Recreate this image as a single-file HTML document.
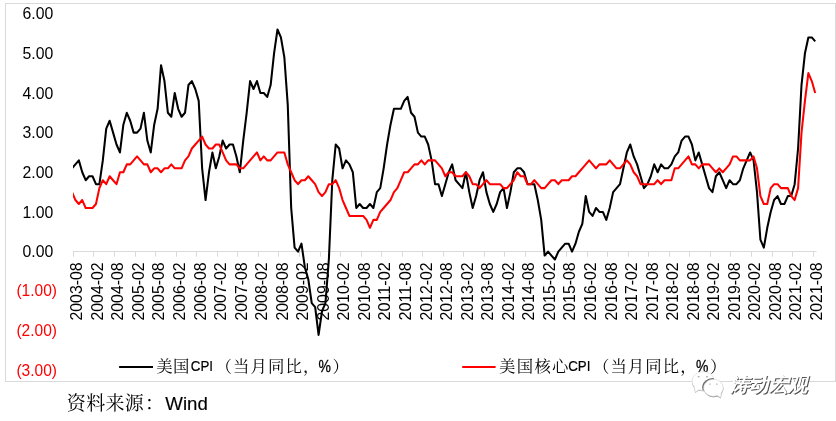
<!DOCTYPE html>
<html lang="zh"><head><meta charset="utf-8"><title>美国CPI与核心CPI（当月同比，%）</title>
<style>html,body{margin:0;padding:0;background:#fff;}body{width:836px;height:421px;overflow:hidden;font-family:"Liberation Sans",sans-serif;}svg{display:block;will-change:transform;}text{font-family:"Liberation Sans",sans-serif;}</style>
</head><body>
<svg width="836" height="421" viewBox="0 0 836 421">
<rect x="0" y="0" width="836" height="421" fill="#ffffff"/>
<rect x="5.5" y="3.5" width="830" height="378" fill="#ffffff" stroke="#d9d9d9" stroke-width="1"/>
<text x="53.3" y="19.48" font-size="16.4" text-anchor="end" fill="#000000" textLength="30.8" lengthAdjust="spacingAndGlyphs">6.00</text>
<text x="53.3" y="59.10" font-size="16.4" text-anchor="end" fill="#000000" textLength="30.8" lengthAdjust="spacingAndGlyphs">5.00</text>
<text x="53.3" y="98.72" font-size="16.4" text-anchor="end" fill="#000000" textLength="30.8" lengthAdjust="spacingAndGlyphs">4.00</text>
<text x="53.3" y="138.34" font-size="16.4" text-anchor="end" fill="#000000" textLength="30.8" lengthAdjust="spacingAndGlyphs">3.00</text>
<text x="53.3" y="177.96" font-size="16.4" text-anchor="end" fill="#000000" textLength="30.8" lengthAdjust="spacingAndGlyphs">2.00</text>
<text x="53.3" y="217.58" font-size="16.4" text-anchor="end" fill="#000000" textLength="30.8" lengthAdjust="spacingAndGlyphs">1.00</text>
<text x="53.3" y="257.20" font-size="16.4" text-anchor="end" fill="#000000" textLength="30.8" lengthAdjust="spacingAndGlyphs">0.00</text>
<text x="57.0" y="296.42" font-size="16.4" text-anchor="end" fill="#ff0000" textLength="40.6" lengthAdjust="spacingAndGlyphs">(1.00)</text>
<text x="57.0" y="336.04" font-size="16.4" text-anchor="end" fill="#ff0000" textLength="40.6" lengthAdjust="spacingAndGlyphs">(2.00)</text>
<text x="57.0" y="375.66" font-size="16.4" text-anchor="end" fill="#ff0000" textLength="40.6" lengthAdjust="spacingAndGlyphs">(3.00)</text>
<g stroke="#d9d9d9" stroke-width="1" fill="none">
<path d="M73.00 251.50H816.62"/>
<path d="M73.5 251.50v5.2M93.5 251.50v5.2M114.5 251.50v5.2M135.5 251.50v5.2M155.5 251.50v5.2M176.5 251.50v5.2M196.5 251.50v5.2M217.5 251.50v5.2M237.5 251.50v5.2M258.5 251.50v5.2M278.5 251.50v5.2M299.5 251.50v5.2M320.5 251.50v5.2M340.5 251.50v5.2M361.5 251.50v5.2M381.5 251.50v5.2M402.5 251.50v5.2M422.5 251.50v5.2M443.5 251.50v5.2M463.5 251.50v5.2M484.5 251.50v5.2M504.5 251.50v5.2M525.5 251.50v5.2M546.5 251.50v5.2M566.5 251.50v5.2M587.5 251.50v5.2M607.5 251.50v5.2M628.5 251.50v5.2M648.5 251.50v5.2M669.5 251.50v5.2M689.5 251.50v5.2M710.5 251.50v5.2M730.5 251.50v5.2M751.5 251.50v5.2M772.5 251.50v5.2M792.5 251.50v5.2M813.5 251.50v5.2"/>
</g>
<g font-size="16.2" fill="#000000" text-anchor="end">
<text transform="translate(82.21,262.30) rotate(-90)" textLength="58.3" lengthAdjust="spacingAndGlyphs">2003-08</text>
<text transform="translate(102.76,262.30) rotate(-90)" textLength="58.3" lengthAdjust="spacingAndGlyphs">2004-02</text>
<text transform="translate(123.31,262.30) rotate(-90)" textLength="58.3" lengthAdjust="spacingAndGlyphs">2004-08</text>
<text transform="translate(143.86,262.30) rotate(-90)" textLength="58.3" lengthAdjust="spacingAndGlyphs">2005-02</text>
<text transform="translate(164.41,262.30) rotate(-90)" textLength="58.3" lengthAdjust="spacingAndGlyphs">2005-08</text>
<text transform="translate(184.96,262.30) rotate(-90)" textLength="58.3" lengthAdjust="spacingAndGlyphs">2006-02</text>
<text transform="translate(205.51,262.30) rotate(-90)" textLength="58.3" lengthAdjust="spacingAndGlyphs">2006-08</text>
<text transform="translate(226.06,262.30) rotate(-90)" textLength="58.3" lengthAdjust="spacingAndGlyphs">2007-02</text>
<text transform="translate(246.61,262.30) rotate(-90)" textLength="58.3" lengthAdjust="spacingAndGlyphs">2007-08</text>
<text transform="translate(267.16,262.30) rotate(-90)" textLength="58.3" lengthAdjust="spacingAndGlyphs">2008-02</text>
<text transform="translate(287.71,262.30) rotate(-90)" textLength="58.3" lengthAdjust="spacingAndGlyphs">2008-08</text>
<text transform="translate(308.26,262.30) rotate(-90)" textLength="58.3" lengthAdjust="spacingAndGlyphs">2009-02</text>
<text transform="translate(328.81,262.30) rotate(-90)" textLength="58.3" lengthAdjust="spacingAndGlyphs">2009-08</text>
<text transform="translate(349.36,262.30) rotate(-90)" textLength="58.3" lengthAdjust="spacingAndGlyphs">2010-02</text>
<text transform="translate(369.91,262.30) rotate(-90)" textLength="58.3" lengthAdjust="spacingAndGlyphs">2010-08</text>
<text transform="translate(390.46,262.30) rotate(-90)" textLength="58.3" lengthAdjust="spacingAndGlyphs">2011-02</text>
<text transform="translate(411.01,262.30) rotate(-90)" textLength="58.3" lengthAdjust="spacingAndGlyphs">2011-08</text>
<text transform="translate(431.56,262.30) rotate(-90)" textLength="58.3" lengthAdjust="spacingAndGlyphs">2012-02</text>
<text transform="translate(452.11,262.30) rotate(-90)" textLength="58.3" lengthAdjust="spacingAndGlyphs">2012-08</text>
<text transform="translate(472.66,262.30) rotate(-90)" textLength="58.3" lengthAdjust="spacingAndGlyphs">2013-02</text>
<text transform="translate(493.21,262.30) rotate(-90)" textLength="58.3" lengthAdjust="spacingAndGlyphs">2013-08</text>
<text transform="translate(513.76,262.30) rotate(-90)" textLength="58.3" lengthAdjust="spacingAndGlyphs">2014-02</text>
<text transform="translate(534.31,262.30) rotate(-90)" textLength="58.3" lengthAdjust="spacingAndGlyphs">2014-08</text>
<text transform="translate(554.86,262.30) rotate(-90)" textLength="58.3" lengthAdjust="spacingAndGlyphs">2015-02</text>
<text transform="translate(575.41,262.30) rotate(-90)" textLength="58.3" lengthAdjust="spacingAndGlyphs">2015-08</text>
<text transform="translate(595.96,262.30) rotate(-90)" textLength="58.3" lengthAdjust="spacingAndGlyphs">2016-02</text>
<text transform="translate(616.51,262.30) rotate(-90)" textLength="58.3" lengthAdjust="spacingAndGlyphs">2016-08</text>
<text transform="translate(637.06,262.30) rotate(-90)" textLength="58.3" lengthAdjust="spacingAndGlyphs">2017-02</text>
<text transform="translate(657.61,262.30) rotate(-90)" textLength="58.3" lengthAdjust="spacingAndGlyphs">2017-08</text>
<text transform="translate(678.16,262.30) rotate(-90)" textLength="58.3" lengthAdjust="spacingAndGlyphs">2018-02</text>
<text transform="translate(698.71,262.30) rotate(-90)" textLength="58.3" lengthAdjust="spacingAndGlyphs">2018-08</text>
<text transform="translate(719.26,262.30) rotate(-90)" textLength="58.3" lengthAdjust="spacingAndGlyphs">2019-02</text>
<text transform="translate(739.81,262.30) rotate(-90)" textLength="58.3" lengthAdjust="spacingAndGlyphs">2019-08</text>
<text transform="translate(760.36,262.30) rotate(-90)" textLength="58.3" lengthAdjust="spacingAndGlyphs">2020-02</text>
<text transform="translate(780.91,262.30) rotate(-90)" textLength="58.3" lengthAdjust="spacingAndGlyphs">2020-08</text>
<text transform="translate(801.46,262.30) rotate(-90)" textLength="58.3" lengthAdjust="spacingAndGlyphs">2021-02</text>
<text transform="translate(822.01,262.30) rotate(-90)" textLength="58.3" lengthAdjust="spacingAndGlyphs">2021-08</text>
</g>
<defs><clipPath id="pc"><rect x="73" y="0" width="760" height="381"/></clipPath></defs>
<g clip-path="url(#pc)" fill="none" stroke-width="2.05" stroke-linejoin="round" stroke-linecap="butt">
<polyline stroke="#000000" points="71.99,168.31 75.41,164.35 78.84,160.38 82.26,172.28 85.69,180.21 89.11,176.25 92.54,176.25 95.96,184.18 99.39,184.18 102.81,160.38 106.24,128.65 109.66,120.72 113.09,132.62 116.51,144.52 119.94,152.45 123.36,124.69 126.79,112.79 130.21,120.72 133.64,132.62 137.06,132.62 140.49,128.65 143.91,112.79 147.34,140.55 150.76,152.45 154.19,124.69 157.61,108.82 161.04,65.20 164.46,81.06 167.89,112.79 171.31,116.76 174.74,92.96 178.16,108.82 181.59,116.76 185.01,112.79 188.44,85.03 191.86,81.06 195.29,88.99 198.71,100.89 202.14,168.31 205.56,200.04 208.99,172.28 212.41,152.45 215.84,168.31 219.26,156.42 222.69,140.55 226.11,148.48 229.54,144.52 232.96,144.52 236.39,156.42 239.81,172.28 243.24,140.55 246.66,112.79 250.09,81.06 253.51,88.99 256.94,81.06 260.36,92.96 263.79,92.96 267.21,96.93 270.64,85.03 274.06,53.30 277.49,29.50 280.91,37.44 284.34,57.27 287.76,104.86 291.19,207.97 294.61,247.63 298.04,251.60 301.46,243.67 304.89,267.46 308.31,279.36 311.74,303.16 315.16,307.12 318.59,334.89 322.01,311.09 325.44,303.16 328.86,259.53 332.29,180.21 335.71,144.52 339.14,148.48 342.56,168.31 345.99,160.38 349.41,164.35 352.84,172.28 356.26,207.97 359.69,204.01 363.11,207.97 366.54,207.97 369.96,204.01 373.39,207.97 376.81,192.11 380.24,188.14 383.66,168.31 387.09,144.52 390.51,124.69 393.94,108.82 397.36,108.82 400.79,108.82 404.21,100.89 407.64,96.93 411.06,112.79 414.49,116.76 417.91,132.62 421.34,136.59 424.76,136.59 428.19,144.52 431.61,160.38 435.04,184.18 438.46,184.18 441.89,196.08 445.31,184.18 448.74,172.28 452.16,164.35 455.59,180.21 459.01,184.18 462.44,188.14 465.86,172.28 469.29,192.11 472.71,207.97 476.14,196.08 479.56,180.21 482.99,172.28 486.41,192.11 489.84,204.01 493.26,211.94 496.69,204.01 500.11,192.11 503.54,188.14 506.96,207.97 510.39,192.11 513.81,172.28 517.24,168.31 520.66,168.31 524.09,172.28 527.51,184.18 530.94,184.18 534.36,184.18 537.79,200.04 541.21,219.87 544.64,255.57 548.06,251.60 551.49,255.57 554.91,259.53 558.34,251.60 561.76,247.63 565.19,243.67 568.61,243.67 572.04,251.60 575.46,243.67 578.89,231.77 582.31,223.84 585.74,196.08 589.16,211.94 592.59,215.91 596.01,207.97 599.44,211.94 602.86,211.94 606.29,219.87 609.71,207.97 613.14,192.11 616.56,188.14 619.99,184.18 623.41,168.31 626.84,152.45 630.26,144.52 633.69,156.42 637.11,164.35 640.54,176.25 643.96,188.14 647.39,184.18 650.81,176.25 654.24,164.35 657.66,172.28 661.09,164.35 664.51,168.31 667.94,168.31 671.36,164.35 674.79,156.42 678.21,152.45 681.64,140.55 685.06,136.59 688.49,136.59 691.91,144.52 695.34,160.38 698.76,152.45 702.19,164.35 705.61,176.25 709.04,188.14 712.46,192.11 715.89,176.25 719.31,172.28 722.74,180.21 726.16,188.14 729.59,180.21 733.01,184.18 736.44,184.18 739.86,180.21 743.29,168.31 746.71,160.38 750.14,152.45 753.56,160.38 756.99,192.11 760.41,239.70 763.84,247.63 767.26,227.80 770.69,211.94 774.11,200.04 777.54,196.08 780.96,204.01 784.39,204.01 787.81,196.08 791.24,196.08 794.66,184.18 798.09,148.48 801.51,85.03 804.94,53.30 808.36,37.44 811.79,37.44 815.21,41.40"/>
<polyline stroke="#ff0000" points="71.99,192.11 75.41,200.04 78.84,204.01 82.26,200.04 85.69,207.97 89.11,207.97 92.54,207.97 95.96,204.01 99.39,188.14 102.81,180.21 106.24,184.18 109.66,176.25 113.09,180.21 116.51,184.18 119.94,172.28 123.36,172.28 126.79,164.35 130.21,164.35 133.64,160.38 137.06,156.42 140.49,160.38 143.91,164.35 147.34,164.35 150.76,172.28 154.19,168.31 157.61,168.31 161.04,172.28 164.46,168.31 167.89,168.31 171.31,164.35 174.74,168.31 178.16,168.31 181.59,168.31 185.01,160.38 188.44,156.42 191.86,148.48 195.29,144.52 198.71,140.55 202.14,136.59 205.56,144.52 208.99,148.48 212.41,148.48 215.84,144.52 219.26,144.52 222.69,152.45 226.11,160.38 229.54,164.35 232.96,164.35 236.39,164.35 239.81,168.31 243.24,168.31 246.66,164.35 250.09,160.38 253.51,156.42 256.94,152.45 260.36,160.38 263.79,156.42 267.21,160.38 270.64,160.38 274.06,156.42 277.49,152.45 280.91,152.45 284.34,152.45 287.76,164.35 291.19,172.28 294.61,180.21 298.04,184.18 301.46,180.21 304.89,180.21 308.31,176.25 311.74,180.21 315.16,184.18 318.59,192.11 322.01,196.08 325.44,192.11 328.86,184.18 332.29,184.18 335.71,180.21 339.14,188.14 342.56,200.04 345.99,207.97 349.41,215.91 352.84,215.91 356.26,215.91 359.69,215.91 363.11,215.91 366.54,219.87 369.96,227.80 373.39,219.87 376.81,219.87 380.24,211.94 383.66,207.97 387.09,204.01 390.51,200.04 393.94,192.11 397.36,188.14 400.79,180.21 404.21,172.28 407.64,172.28 411.06,168.31 414.49,164.35 417.91,164.35 421.34,160.38 424.76,164.35 428.19,160.38 431.61,160.38 435.04,160.38 438.46,164.35 441.89,168.31 445.31,176.25 448.74,172.28 452.16,172.28 455.59,176.25 459.01,176.25 462.44,176.25 465.86,172.28 469.29,176.25 472.71,184.18 476.14,184.18 479.56,188.14 482.99,184.18 486.41,180.21 489.84,184.18 493.26,184.18 496.69,184.18 500.11,184.18 503.54,188.14 506.96,188.14 510.39,184.18 513.81,180.21 517.24,172.28 520.66,176.25 524.09,176.25 527.51,184.18 530.94,184.18 534.36,180.21 537.79,184.18 541.21,188.14 544.64,188.14 548.06,184.18 551.49,180.21 554.91,180.21 558.34,184.18 561.76,180.21 565.19,180.21 568.61,180.21 572.04,176.25 575.46,176.25 578.89,172.28 582.31,168.31 585.74,164.35 589.16,160.38 592.59,164.35 596.01,168.31 599.44,164.35 602.86,164.35 606.29,164.35 609.71,160.38 613.14,164.35 616.56,168.31 619.99,168.31 623.41,164.35 626.84,160.38 630.26,164.35 633.69,172.28 637.11,176.25 640.54,184.18 643.96,184.18 647.39,184.18 650.81,184.18 654.24,184.18 657.66,180.21 661.09,184.18 664.51,180.21 667.94,180.21 671.36,180.21 674.79,168.31 678.21,168.31 681.64,164.35 685.06,160.38 688.49,156.42 691.91,164.35 695.34,164.35 698.76,168.31 702.19,164.35 705.61,164.35 709.04,164.35 712.46,168.31 715.89,172.28 719.31,168.31 722.74,172.28 726.16,168.31 729.59,164.35 733.01,156.42 736.44,156.42 739.86,160.38 743.29,160.38 746.71,160.38 750.14,160.38 753.56,156.42 756.99,168.31 760.41,196.08 763.84,204.01 767.26,204.01 770.69,188.14 774.11,184.18 777.54,184.18 780.96,188.14 784.39,188.14 787.81,188.14 791.24,196.08 794.66,200.04 798.09,188.14 801.51,132.62 804.94,100.89 808.36,73.13 811.79,81.06 815.21,92.96"/>
</g>
<path d="M119.1 367H153.0" stroke="#000000" stroke-width="2.2" fill="none"/>
<path d="M462.2 367H495.6" stroke="#ff0000" stroke-width="2.2" fill="none"/>
<text x="156.3" y="371.6" font-size="16.4" fill="#000000" style="font-family:'Liberation Serif','Noto Serif CJK SC',serif" textLength="33">美国</text>
<text x="190.80" y="371.40" font-size="15.5" fill="#000000" stroke="#000000" stroke-width="0.2" textLength="22.20" lengthAdjust="spacingAndGlyphs">CPI</text>
<text x="215.5" y="371.6" font-size="16.4" fill="#000000" style="font-family:'Liberation Serif','Noto Serif CJK SC',serif" textLength="103.8">（当月同比，</text>
<text x="318.60" y="371.60" font-size="16.8" fill="#000000" stroke="#000000" stroke-width="0.3" textLength="12.40" lengthAdjust="spacingAndGlyphs">%</text>
<text x="332.5" y="371.6" font-size="16.4" fill="#000000" style="font-family:'Liberation Serif','Noto Serif CJK SC',serif">）</text>
<text x="499" y="371.6" font-size="16.4" fill="#000000" style="font-family:'Liberation Serif','Noto Serif CJK SC',serif" textLength="69.5">美国核心</text>
<text x="568.20" y="371.40" font-size="15.5" fill="#000000" stroke="#000000" stroke-width="0.2" textLength="22.20" lengthAdjust="spacingAndGlyphs">CPI</text>
<text x="592.9" y="371.6" font-size="16.4" fill="#000000" style="font-family:'Liberation Serif','Noto Serif CJK SC',serif" textLength="103.8">（当月同比，</text>
<text x="696.00" y="371.60" font-size="16.8" fill="#000000" stroke="#000000" stroke-width="0.3" textLength="12.40" lengthAdjust="spacingAndGlyphs">%</text>
<text x="709.9" y="371.6" font-size="16.4" fill="#000000" style="font-family:'Liberation Serif','Noto Serif CJK SC',serif">）</text>
<text x="66.8" y="409.6" font-size="19" fill="#000000" style="font-family:'Liberation Serif','Noto Serif CJK SC',serif" textLength="77">资料来源</text>
<text x="145" y="409.6" font-size="19" fill="#000000" style="font-family:'Liberation Serif','Noto Serif CJK SC',serif">：</text>
<text x="165.30" y="410.00" font-size="18.2" fill="#000000" stroke="#000000" stroke-width="0.15" textLength="42.50" lengthAdjust="spacingAndGlyphs">Wind</text>
<g role="img" aria-label="WeChat"><title>WeChat</title>
<defs><clipPath id="bigc"><path d="M694.24 386.66A11.10 9.40 0 1 1 698.94 389.72L695.30 392.20Z"/></clipPath></defs>
<path d="M694.24 386.66A11.10 9.40 0 1 1 698.94 389.72L695.30 392.20Z" fill="#7a7a7a" opacity="0.75" transform="translate(-0.1,0.9)"/>
<path d="M694.24 386.66A11.10 9.40 0 1 1 698.94 389.72L695.30 392.20Z" fill="#ffffff" stroke="#dcdcdc" stroke-width="0.7"/>
<g clip-path="url(#bigc)"><ellipse cx="713.1" cy="387.5" rx="10.9" ry="9.6" fill="#4a4a4a" opacity="0.85"/></g>
<path d="M717.39 395.57A9.80 8.50 0 1 1 721.23 392.92L720.70 397.70Z" fill="#6a6a6a" opacity="0.8" transform="translate(0.2,0.9)"/>
<path d="M717.39 395.57A9.80 8.50 0 1 1 721.23 392.92L720.70 397.70Z" fill="#ffffff" stroke="#d4d4d4" stroke-width="0.6"/>
<g fill="#b0b0b0"><ellipse cx="698.7" cy="376.8" rx="1.2" ry="0.7"/><ellipse cx="707.0" cy="376.8" rx="1.2" ry="0.7"/><ellipse cx="710.0" cy="384.1" rx="1.0" ry="0.6"/><ellipse cx="716.8" cy="384.1" rx="1.0" ry="0.6"/></g>
</g>
<g font-size="19.5" font-weight="bold" font-style="italic" style="font-family:'Liberation Sans','Noto Sans CJK SC',sans-serif">
<text x="730" y="391.4" fill="#3c3c3c" opacity="0.9" transform="translate(1.0,1.0)" textLength="78">涛动宏观</text>
<text x="730" y="391.4" fill="#ffffff" textLength="78">涛动宏观</text>
</g>
</svg>
</body></html>
